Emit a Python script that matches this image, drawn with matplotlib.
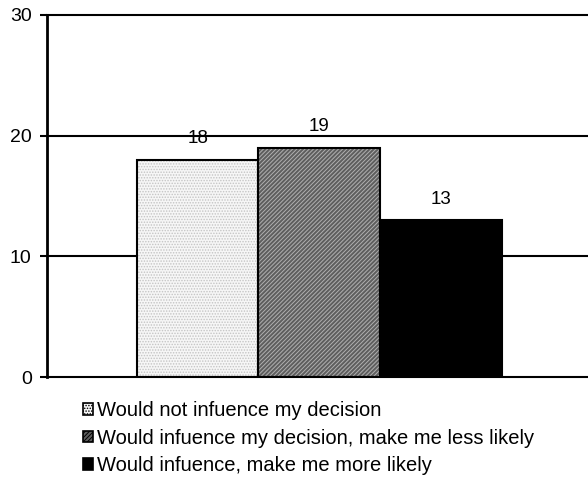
import matplotlib.pyplot as plt
from matplotlib.patches import Patch

plt.rcParams['font.family'] = ['Liberation Sans', 'DejaVu Sans']
plt.rcParams['hatch.linewidth'] = 0.7

labels = ["Would not infuence my decision",
          "Would infuence my decision, make me less likely",
          "Would infuence, make me more likely"]
values = [18, 19, 13]
yticks = [0, 10, 20, 30]

faces = ["#f6f6f6", "#5e5e5e", "black"]
hatch_cols = ["#c4c4c4", "#b0b0b0", "black"]
hatches = ["......", "////////", None]

fig = plt.figure(figsize=(5.88, 4.86), dpi=100)
ax = fig.add_axes([47 / 588, 109 / 486, 1 - 47 / 588, 362 / 486])

x = [0, 1, 2]
for i in range(3):
    ax.bar(x[i], values[i], width=1.0, color=faces[i], hatch=hatches[i],
           edgecolor=hatch_cols[i], linewidth=0, zorder=2)
    ax.bar(x[i], values[i], width=1.0, fill=False, edgecolor="black",
           linewidth=1.5, zorder=3)
    ax.annotate(str(values[i]), (x[i], values[i]), xytext=(0, 15),
                textcoords="offset points", ha="center", va="center",
                fontsize=13.5, zorder=4)

ax.set_xlim(-1.239, 3.21)
ax.set_ylim(0, 30)
ax.set_yticks(yticks)
ax.set_xticks([])
ax.tick_params(axis="y", length=5, width=1.5, labelsize=14, pad=6)
for y in yticks[1:]:
    ax.axhline(y, color="black", linewidth=1.5, zorder=1, clip_on=False)
for s in ["top", "right"]:
    ax.spines[s].set_visible(False)
ax.spines["left"].set_linewidth(2)
ax.spines["bottom"].set_linewidth(1.5)

handles = [Patch(facecolor=faces[i], hatch=hatches[i], edgecolor="black",
                 linewidth=1.2) for i in range(3)]
fig.legend(handles, labels, loc="upper left", bbox_to_anchor=(83 / 588, 1 - 401 / 486),
           frameon=False, fontsize=14.5, handlelength=0.5, handleheight=0.5,
           handletextpad=0.2, labelspacing=0.43, borderaxespad=0, borderpad=0)

fig.savefig("out.png", dpi=100)
